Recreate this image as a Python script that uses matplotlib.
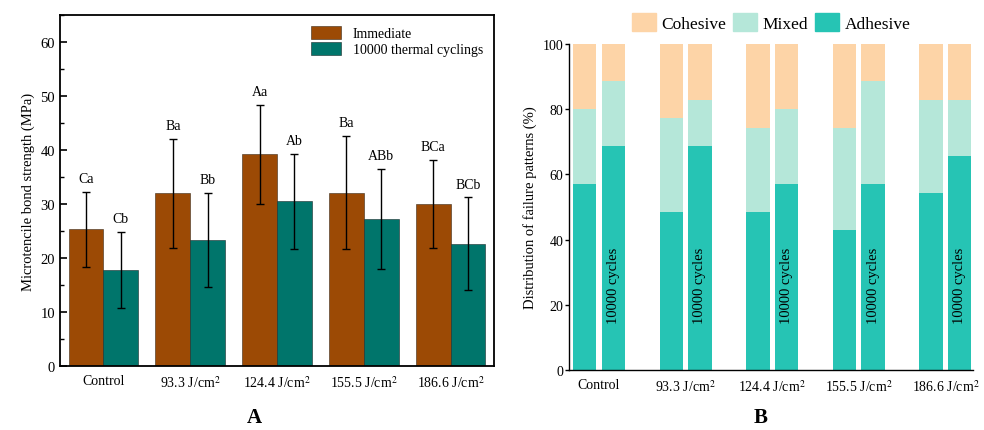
import numpy as np
import matplotlib
matplotlib.use("Agg")
import matplotlib.pyplot as plt
from matplotlib.patches import Patch
from matplotlib.ticker import MultipleLocator

plt.rcParams['font.family'] = ['Liberation Serif', 'DejaVu Serif']
plt.rcParams['mathtext.fontset'] = 'stix'

# ---- data ----
groups = ['Control', '93.3 J/cm$^2$', '124.4 J/cm$^2$', '155.5 J/cm$^2$', '186.6 J/cm$^2$']

# panel A: microtensile bond strength (MPa)
immediate = [25.3, 32.0, 39.2, 32.1, 30.0]
immediate_err = [6.9, 10.1, 9.2, 10.5, 8.1]
immediate_letters = ['Ca', 'Ba', 'Aa', 'Ba', 'BCa']
thermal = [17.8, 23.4, 30.5, 27.2, 22.6]
thermal_err = [7.1, 8.7, 8.8, 9.2, 8.6]
thermal_letters = ['Cb', 'Bb', 'Ab', 'ABb', 'BCb']

# panel B: failure patterns (%), order per group: immediate, 10000 cycles
adhesive = [57.1, 68.6, 48.6, 68.6, 48.6, 57.1, 42.9, 57.1, 54.3, 65.7]
mixed = [22.9, 20.0, 28.6, 14.3, 25.7, 22.9, 31.4, 31.4, 28.6, 17.1]
cohesive = [20.0, 11.4, 22.9, 17.1, 25.7, 20.0, 25.7, 11.4, 17.1, 17.1]

brown = '#9C4A05'
teal = '#00756B'
c_coh = '#FDD4A7'
c_mix = '#B5E7D9'
c_adh = '#26C4B4'

fig = plt.figure(figsize=(9.84, 4.31), dpi=100)

# ---- panel A ----
axA = fig.add_axes([0.061, 0.1485, 0.441, 0.8145])
x = np.arange(len(groups))
w = 0.4
axA.bar(x - w / 2, immediate, w, color=brown, edgecolor='#3a2a1a', linewidth=0.4,
        yerr=immediate_err, error_kw=dict(ecolor='black', elinewidth=1, capsize=3, capthick=1),
        label='Immediate')
axA.bar(x + w / 2, thermal, w, color=teal, edgecolor='#1a2a2a', linewidth=0.4,
        yerr=thermal_err, error_kw=dict(ecolor='black', elinewidth=1, capsize=3, capthick=1),
        label='10000 thermal cyclings')
for i in range(len(groups)):
    axA.annotate(immediate_letters[i], (x[i] - w / 2, immediate[i] + immediate_err[i]),
                 xytext=(0, 5), textcoords='offset points', ha='center', va='bottom', fontsize=10)
    axA.annotate(thermal_letters[i], (x[i] + w / 2, thermal[i] + thermal_err[i]),
                 xytext=(0, 5), textcoords='offset points', ha='center', va='bottom', fontsize=10)
axA.set_xlim(-0.5, 4.5)
axA.set_ylim(0, 65)
axA.yaxis.set_major_locator(MultipleLocator(10))
axA.yaxis.set_minor_locator(MultipleLocator(5))
axA.tick_params(axis='y', which='major', direction='in', length=5, width=1.2, labelsize=10.5)
axA.tick_params(axis='y', which='minor', direction='in', length=3, width=1)
axA.tick_params(axis='x', length=0, labelsize=10, pad=6)
axA.set_xticks(x)
axA.set_xticklabels(groups)
axA.set_ylabel('Microtencile bond strength (MPa)', fontsize=10.5)
for s in axA.spines.values():
    s.set_linewidth(1.3)
axA.legend(loc='upper right', frameon=False, fontsize=10, handlelength=2.2, handleheight=1.1,
           borderaxespad=0.4, labelspacing=0.1)

# ---- panel B ----
axB = fig.add_axes([0.578, 0.139, 0.411, 0.7566])
off = 0.165
bw = 0.27
pos = []
for i in range(len(groups)):
    pos += [i - off, i + off]
pos = np.array(pos)
adh = np.array(adhesive)
mix = np.array(mixed)
coh = np.array(cohesive)
axB.bar(pos, adh, bw, color=c_adh, label='Adhesive')
axB.bar(pos, mix, bw, bottom=adh, color=c_mix, label='Mixed')
axB.bar(pos, coh, bw, bottom=adh + mix, color=c_coh, label='Cohesive')
for i in range(len(groups)):
    axB.text(i + off, 26, '10000 cycles', rotation=90, ha='center', va='center', fontsize=10.5)
axB.set_xlim(-0.35, 4.32)
axB.set_ylim(0, 100)
axB.yaxis.set_major_locator(MultipleLocator(20))
axB.tick_params(axis='y', direction='out', length=3, width=1, labelsize=10, pad=1)
axB.tick_params(axis='x', length=0, labelsize=10, pad=6)
axB.set_xticks(x)
axB.set_xticklabels(groups)
axB.set_ylabel('Distribution of failure patterns (%)', fontsize=10.5)
axB.spines['top'].set_visible(False)
axB.spines['right'].set_visible(False)
axB.spines['left'].set_linewidth(1.0)
axB.spines['bottom'].set_linewidth(1.0)
handles = [Patch(color=c_coh, label='Cohesive'), Patch(color=c_mix, label='Mixed'),
           Patch(color=c_adh, label='Adhesive')]
axB.legend(handles=handles, loc='lower center', bbox_to_anchor=(0.5, 1.0), ncol=3,
           frameon=False, fontsize=12.5, handlelength=1.4, handleheight=1.3, columnspacing=0.4,
           handletextpad=0.3, borderaxespad=0.3)

fig.text(0.259, 0.03, 'A', ha='center', va='center', fontsize=15, fontweight='bold')
fig.text(0.773, 0.03, 'B', ha='center', va='center', fontsize=15, fontweight='bold')

fig.savefig('out.png', dpi=100)
